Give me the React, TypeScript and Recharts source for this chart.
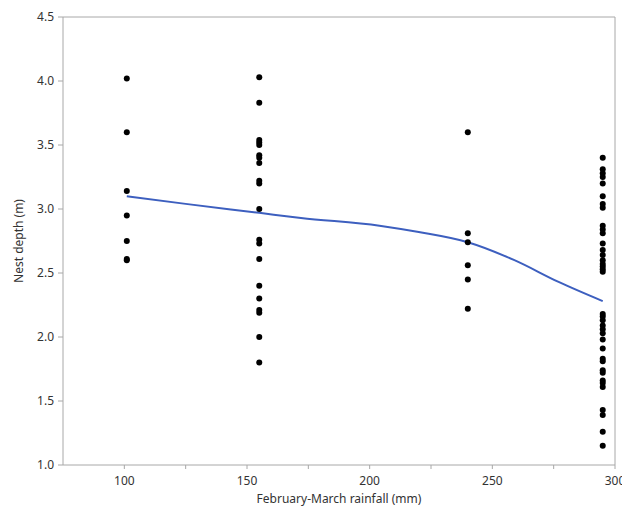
import { ComposedChart, Scatter, Line, XAxis, YAxis, ReferenceLine } from "recharts";

const rainfall = [101, 155, 240, 295];
const depths = [
    [4.02, 3.6, 3.14, 2.95, 2.75, 2.61, 2.6],
    [4.03, 3.83, 3.54, 3.52, 3.5, 3.42, 3.4, 3.36, 3.22, 3.2, 3.0, 2.76, 2.73, 2.61, 2.4, 2.3, 2.21, 2.19, 2.0, 1.8],
    [3.6, 2.81, 2.74, 2.56, 2.45, 2.22],
    [
        3.4, 3.31, 3.28, 3.25, 3.2, 3.1, 3.04, 3.01, 2.87, 2.84, 2.81, 2.73, 2.68, 2.64, 2.6, 2.57, 2.55, 2.53, 2.51,
        2.18, 2.16, 2.13, 2.09, 2.06, 2.03, 1.98, 1.91, 1.83, 1.81, 1.74, 1.72, 1.66, 1.64, 1.61, 1.43, 1.39, 1.26, 1.15,
    ],
];
const fitX = [101, 125, 155, 172, 204, 220, 240, 259, 277, 295];
const fitY = [3.1, 3.04, 2.97, 2.93, 2.87, 2.82, 2.74, 2.6, 2.43, 2.28];
const xTicks = [75, 100, 125, 150, 175, 200, 225, 250, 275, 300];
const yTicks = [1.0, 1.5, 2.0, 2.5, 3.0, 3.5, 4.0, 4.5];

const points = rainfall.flatMap((x, i) => depths[i].map((y) => ({ x, y })));
const fit = fitX.map((x, i) => ({ x, y: fitY[i] }));

const AXIS = "#a8a8a8";
const FONT = "'Noto Sans', 'Open Sans', sans-serif";

const XTick = (props: any) => {
    const { x, y, payload } = props;
    const v = payload.value;
    const major = v % 50 === 0;
    if (v === 75) return null;
    return (
        <g>
            <line x1={x} x2={x} y1={y} y2={y + 4} stroke={AXIS} />
            {major && (
                <text x={x} y={y + 20} textAnchor="middle" fontSize={12} fill="#333" fontFamily={FONT}>
                    {v}
                </text>
            )}
        </g>
    );
};

export default function App() {
    return (
        <div style={{ position: "absolute", left: 0, top: 0 }}>
            <ComposedChart width={622} height={508} margin={{ top: 17, right: 7, bottom: 0, left: 0 }}>
                <XAxis
                    type="number"
                    dataKey="x"
                    domain={[75, 300]}
                    ticks={xTicks}
                    interval={0}
                    height={43}
                    stroke={AXIS}
                    tickSize={0}
                    tickMargin={0}
                    tick={<XTick />}
                    allowDataOverflow
                    label={{
                        value: "February-March rainfall (mm)",
                        position: "insideBottom",
                        offset: 5,
                        fontSize: 12,
                        fill: "#333",
                        fontFamily: FONT,
                    }}
                />
                <YAxis
                    type="number"
                    dataKey="y"
                    domain={[1, 4.5]}
                    ticks={yTicks}
                    interval={0}
                    width={63}
                    stroke={AXIS}
                    tickSize={5}
                    tickMargin={4}
                    tickFormatter={(v: number) => v.toFixed(1)}
                    tick={{ fontSize: 12, fill: "#333", fontFamily: FONT }}
                    allowDataOverflow
                    label={{
                        value: "Nest depth (m)",
                        angle: -90,
                        position: "insideLeft",
                        offset: 19,
                        fontSize: 12,
                        fill: "#333",
                        fontFamily: FONT,
                        style: { textAnchor: "middle" },
                    }}
                />
                <ReferenceLine y={4.5} stroke={AXIS} />
                <ReferenceLine x={300} stroke={AXIS} />
                <Scatter data={points} fill="#000" isAnimationActive={false} shape={(p: any) => <circle cx={p.cx} cy={p.cy} r={3} fill="#000" />} />
                <Line
                    data={fit}
                    dataKey="y"
                    type="monotone"
                    stroke="#3d5fbf"
                    strokeWidth={2}
                    dot={false}
                    isAnimationActive={false}
                />
            </ComposedChart>
        </div>
    );
}
